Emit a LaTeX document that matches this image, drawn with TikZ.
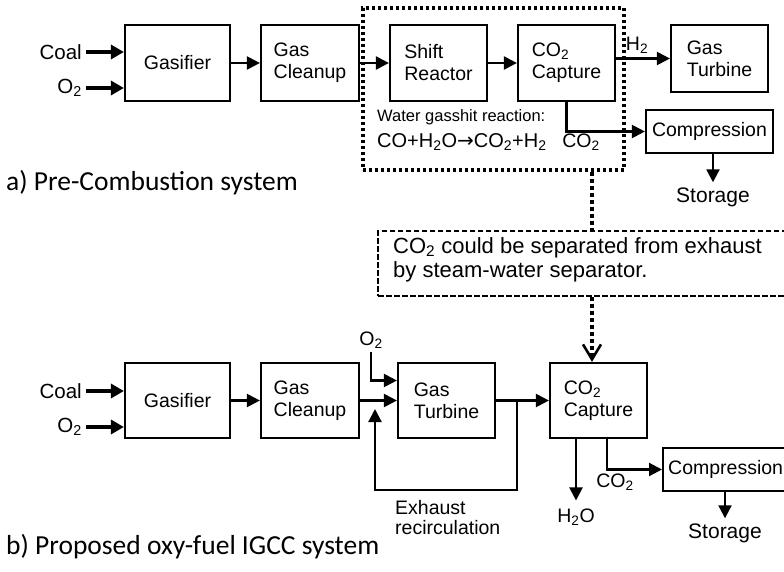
\documentclass[tikz,border=0pt]{standalone}
\usepackage{fontspec}
\setmainfont{Liberation Sans}
\newfontfamily\calib{Carlito}
\newfontfamily\djv{DejaVu Sans}
\usetikzlibrary{arrows.meta}
\begin{document}
\begin{tikzpicture}[x=1pt,y=-1pt,
  box/.style={draw,line width=2.2pt,inner sep=0pt,align=left,font=\fontsize{19.5}{22}\selectfont},
  txt/.style={inner sep=0pt,align=left,font=\fontsize{19.5}{22}\selectfont},
  arr/.style={line width=2.2pt,-{Triangle[length=13pt,width=13pt]}},
  inarr/.style={line width=3.5pt,-{Triangle[length=13pt,width=14pt]}},
  dotline/.style={line width=4pt,dash pattern=on 4pt off 3pt},
  lab/.style={anchor=west,inner sep=0pt,font=\calib\fontsize{27.5}{30}\selectfont}
]
\clip (0,0) rectangle (784,572);
\fill[white] (0,0) rectangle (784,572);

% ---------- a) top row ----------
\node[box,minimum width=105pt,minimum height=76pt] (gasA) at (177.5,63) {Gasifier};
\node[box,minimum width=98pt,minimum height=76pt] (cleanA) at (310,63) {Gas\\Cleanup};
\node[box,minimum width=97pt,minimum height=76pt] (shiftA) at (438.5,63) {Shift\\Reactor};
\node[box,minimum width=97pt,minimum height=76pt] (capA) at (566.5,63) {CO\textsubscript{2}\\Capture};
\node[box,minimum width=97pt,minimum height=67pt] (turbA) at (719.5,58.5) {Gas\\Turbine};
\node[box,minimum width=127pt,minimum height=43pt] (compA) at (709.5,131.5) {Compression};
\node[txt,font=\fontsize{21}{24}\selectfont] (storeA) at (713,197) {Storage};

\node[txt,anchor=east,font=\fontsize{20.5}{22}\selectfont] (coalA) at (82,52) {Coal};
\node[txt,anchor=east,font=\fontsize{20.5}{22}\selectfont] (o2A) at (82,88) {O\textsubscript{2}};
\draw[inarr,shorten <=4pt] (coalA.east) -- (coalA.east -| gasA.west);
\draw[inarr,shorten <=4pt] (o2A.east) -- (o2A.east -| gasA.west);

\draw[arr] (gasA) -- (cleanA);
\draw[arr] (cleanA) -- (shiftA);
\draw[arr] (shiftA) -- (capA);
\draw[arr] (capA.east |- turbA.west) -- (turbA.west);
\node[txt] (h2A) at (637,45) {H\textsubscript{2}};
\draw[arr] (capA.south) |- (compA.west);
\draw[arr,shorten >=5pt] (compA.south -| storeA.north) -- (storeA.north);

\node[txt,anchor=west,font=\fontsize{16.5}{18}\selectfont] (wgs) at (377,117) {Water gasshit reaction:};
\node[txt,anchor=west,font=\fontsize{20}{22}\selectfont] (eq) at (377,142) {CO+H\textsubscript{2}O{\djv →}CO\textsubscript{2}+H\textsubscript{2}};
\node[txt] (co2A) at (581,142) {CO\textsubscript{2}};

\node[draw,line width=3.2pt,dash pattern=on 3pt off 3pt,minimum width=261pt,minimum height=162pt,inner sep=0pt] (dotbox) at (493.5,89) {};

\node[draw,line width=2.3pt,dash pattern=on 5.5pt off 2.5pt,minimum width=440pt,minimum height=65pt,inner sep=0pt,anchor=north west] (dashbox) at (377,230) {};
\node[txt,anchor=north west,font=\fontsize{22}{24.5}\selectfont] (note) at (393,237) {CO\textsubscript{2} could be separated from exhaust\\by steam-water separator.};

\coordinate (dl) at (592,0);
\draw[dotline] (dotbox.south -| dl) -- (dashbox.north -| dl);

% ---------- b) bottom row ----------
\node[box,minimum width=105pt,minimum height=75pt] (gasB) at (177.5,400.5) {Gasifier};
\node[box,minimum width=98pt,minimum height=75pt] (cleanB) at (310,400.5) {Gas\\Cleanup};
\node[box,minimum width=97pt,minimum height=75pt] (turbB) at (446.5,400.5) {Gas\\Turbine};
\node[box,minimum width=97pt,minimum height=75pt] (capB) at (598.5,400.5) {CO\textsubscript{2}\\Capture};
\node[box,minimum width=125pt,minimum height=43pt,anchor=west] (compB) at (662,469.5) {Compression};
\node[txt,font=\fontsize{21}{24}\selectfont] (storeB) at (725,533) {Storage};

\draw[dotline,-{Straight Barb[length=15pt,width=18pt,line width=2.6pt]}] (dashbox.south -| dl) -- (capB.north -| dl);

\node[txt,anchor=east,font=\fontsize{20.5}{22}\selectfont] (coalB) at (82,391) {Coal};
\node[txt,anchor=east,font=\fontsize{20.5}{22}\selectfont] (o2B) at (82,427) {O\textsubscript{2}};
\draw[inarr,shorten <=4pt] (coalB.east) -- (coalB.east -| gasB.west);
\draw[inarr,shorten <=4pt] (o2B.east) -- (o2B.east -| gasB.west);

\draw[arr] (gasB) -- (cleanB);
\draw[arr] (cleanB) -- (turbB);
\draw[arr] (turbB) -- (capB);

\node[txt] (o2t) at (371,340) {O\textsubscript{2}};
\draw[arr,shorten <=3pt] (o2t.south) |- ([yshift=20pt]turbB.west);

\coordinate (j) at (517,400.5);
\coordinate (rb) at (375,490);
\coordinate (rt) at (375,409);
\draw[arr] (j) |- (rb) -- (rt);
\node[txt,anchor=west,font=\fontsize{19.5}{20}\selectfont] (exh) at (395,517.5) {Exhaust\\recirculation};

\node[txt] (h2oB) at (576,517) {H\textsubscript{2}O};
\draw[arr,shorten >=8pt] (capB.south -| h2oB.north) -- (h2oB.north);

\coordinate (cx) at (607,0);
\draw[arr] (capB.south -| cx) |- (compB.west);
\node[txt] (co2B) at (615,482) {CO\textsubscript{2}};
\draw[arr,shorten >=5pt] (compB.south -| storeB.north) -- (storeB.north);

% ---------- labels ----------
\node[lab] (la) at (6,183) {a) Pre-Combustion system};
\node[lab] (lb) at (6,547) {b) Proposed oxy-fuel IGCC system};
\end{tikzpicture}
\end{document}
